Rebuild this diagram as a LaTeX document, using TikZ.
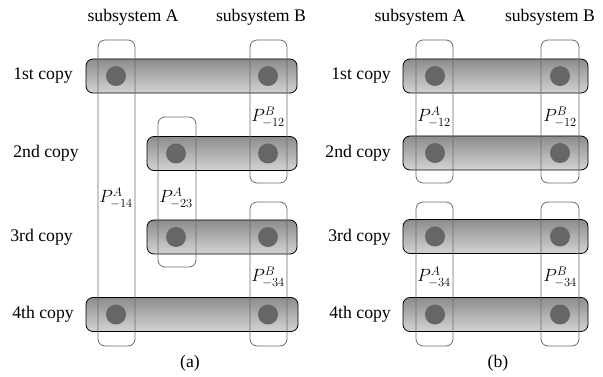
\RequirePackage{fix-cm}
\documentclass[tikz,border=0pt]{standalone}
\usepackage[no-math]{fontspec}
\setmainfont{Liberation Serif}
\begin{document}
\begin{tikzpicture}[x=1pt,y=-1pt,
  every node/.style={font=\fontsize{17.7}{20}\selectfont},
  bar/.style={draw=black, line width=0.8pt, rounded corners=7pt, top color=black!45, bottom color=black!17, minimum height=34pt, inner sep=0pt},
  dot/.style={circle, fill=black!60, minimum size=20pt, inner sep=0pt},
  vbox/.style={draw=black!58, line width=0.8pt, rounded corners=7pt, minimum width=37pt, inner sep=0pt},
  lab/.style={inner sep=0pt}
]
\useasboundingbox (0,0) rectangle (603,377);
% headers
\node[lab] (hA1) at (133,17) {subsystem A};
\node[lab] (hB1) at (261,17) {subsystem B};
\node[lab] (hA2) at (420,17) {subsystem A};
\node[lab] (hB2) at (550,17) {subsystem B};
% row labels
\node[lab] (ra1) at (43,76) {1st copy};
\node[lab] (ra2) at (46,153.5) {2nd copy};
\node[lab] (ra3) at (41.5,237) {3rd copy};
\node[lab] (ra4) at (43,314.5) {4th copy};
\node[lab,anchor=east] (rb1) at (391,76) {1st copy};
\node[lab,anchor=east] (rb2) at (391,153.5) {2nd copy};
\node[lab,anchor=east] (rb3) at (391,237) {3rd copy};
\node[lab,anchor=east] (rb4) at (391,314.5) {4th copy};
% bars (a)
\node[bar, minimum width=211pt] (a1) at (191.5,76) {};
\node[bar, minimum width=150pt] (a2) at (222,153.5) {};
\node[bar, minimum width=150pt] (a3) at (222,237) {};
\node[bar, minimum width=212pt] (a4) at (192,314.5) {};
% bars (b)
\node[bar, minimum width=185pt] (b1) at (495.5,76) {};
\node[bar, minimum width=185pt] (b2) at (495.5,153) {};
\node[bar, minimum width=185pt] (b3) at (495.5,236.5) {};
\node[bar, minimum width=185pt] (b4) at (495.5,314.5) {};
% dots (a)
\node[dot] (da1) at (116,76) {};
\node[dot] (db1) at (268,76) {};
\node[dot] (da2) at (176,153.5) {};
\node[dot] (db2) at (268,153.5) {};
\node[dot] (da3) at (176,237) {};
\node[dot] (db3) at (268,237) {};
\node[dot] (da4) at (116,314.5) {};
\node[dot] (db4) at (268,314.5) {};
% dots (b)
\node[dot] (ea1) at (435,76) {};
\node[dot] (eb1) at (560,76) {};
\node[dot] (ea2) at (435,153) {};
\node[dot] (eb2) at (560,153) {};
\node[dot] (ea3) at (435,236.5) {};
\node[dot] (eb3) at (560,236.5) {};
\node[dot] (ea4) at (435,314.5) {};
\node[dot] (eb4) at (560,314.5) {};
% vertical boxes (a)
\node[vbox, minimum height=306pt] (vA14) at (116.5,193) {};
\node[vbox, minimum height=150pt, minimum width=38pt] (vA23) at (177,192) {};
\node[vbox, minimum height=143pt] (vB12) at (268.5,111.5) {};
\node[vbox, minimum height=144pt] (vB34) at (268.5,274) {};
% vertical boxes (b)
\node[vbox, minimum height=143pt] (wA12) at (434.5,111.5) {};
\node[vbox, minimum height=144pt] (wA34) at (434.5,274) {};
\node[vbox, minimum height=143pt, minimum width=38pt] (wB12) at (560,111.5) {};
\node[vbox, minimum height=144pt, minimum width=38pt] (wB34) at (560,274) {};
% projector labels
\node[lab] (pA14) at (116,198) {$P^{A}_{-14}$};
\node[lab] (pA23) at (176,198) {$P^{A}_{-23}$};
\node[lab] (pB12) at (268,117) {$P^{B}_{-12}$};
\node[lab] (pB34) at (268,277) {$P^{B}_{-34}$};
\node[lab] (qA12) at (434,117) {$P^{A}_{-12}$};
\node[lab] (qB12) at (560,117) {$P^{B}_{-12}$};
\node[lab] (qA34) at (434,277) {$P^{A}_{-34}$};
\node[lab] (qB34) at (560,277) {$P^{B}_{-34}$};
% captions
\node[lab] (capa) at (190,363) {(a)};
\node[lab] (capb) at (498,363) {(b)};
\end{tikzpicture}
\end{document}
